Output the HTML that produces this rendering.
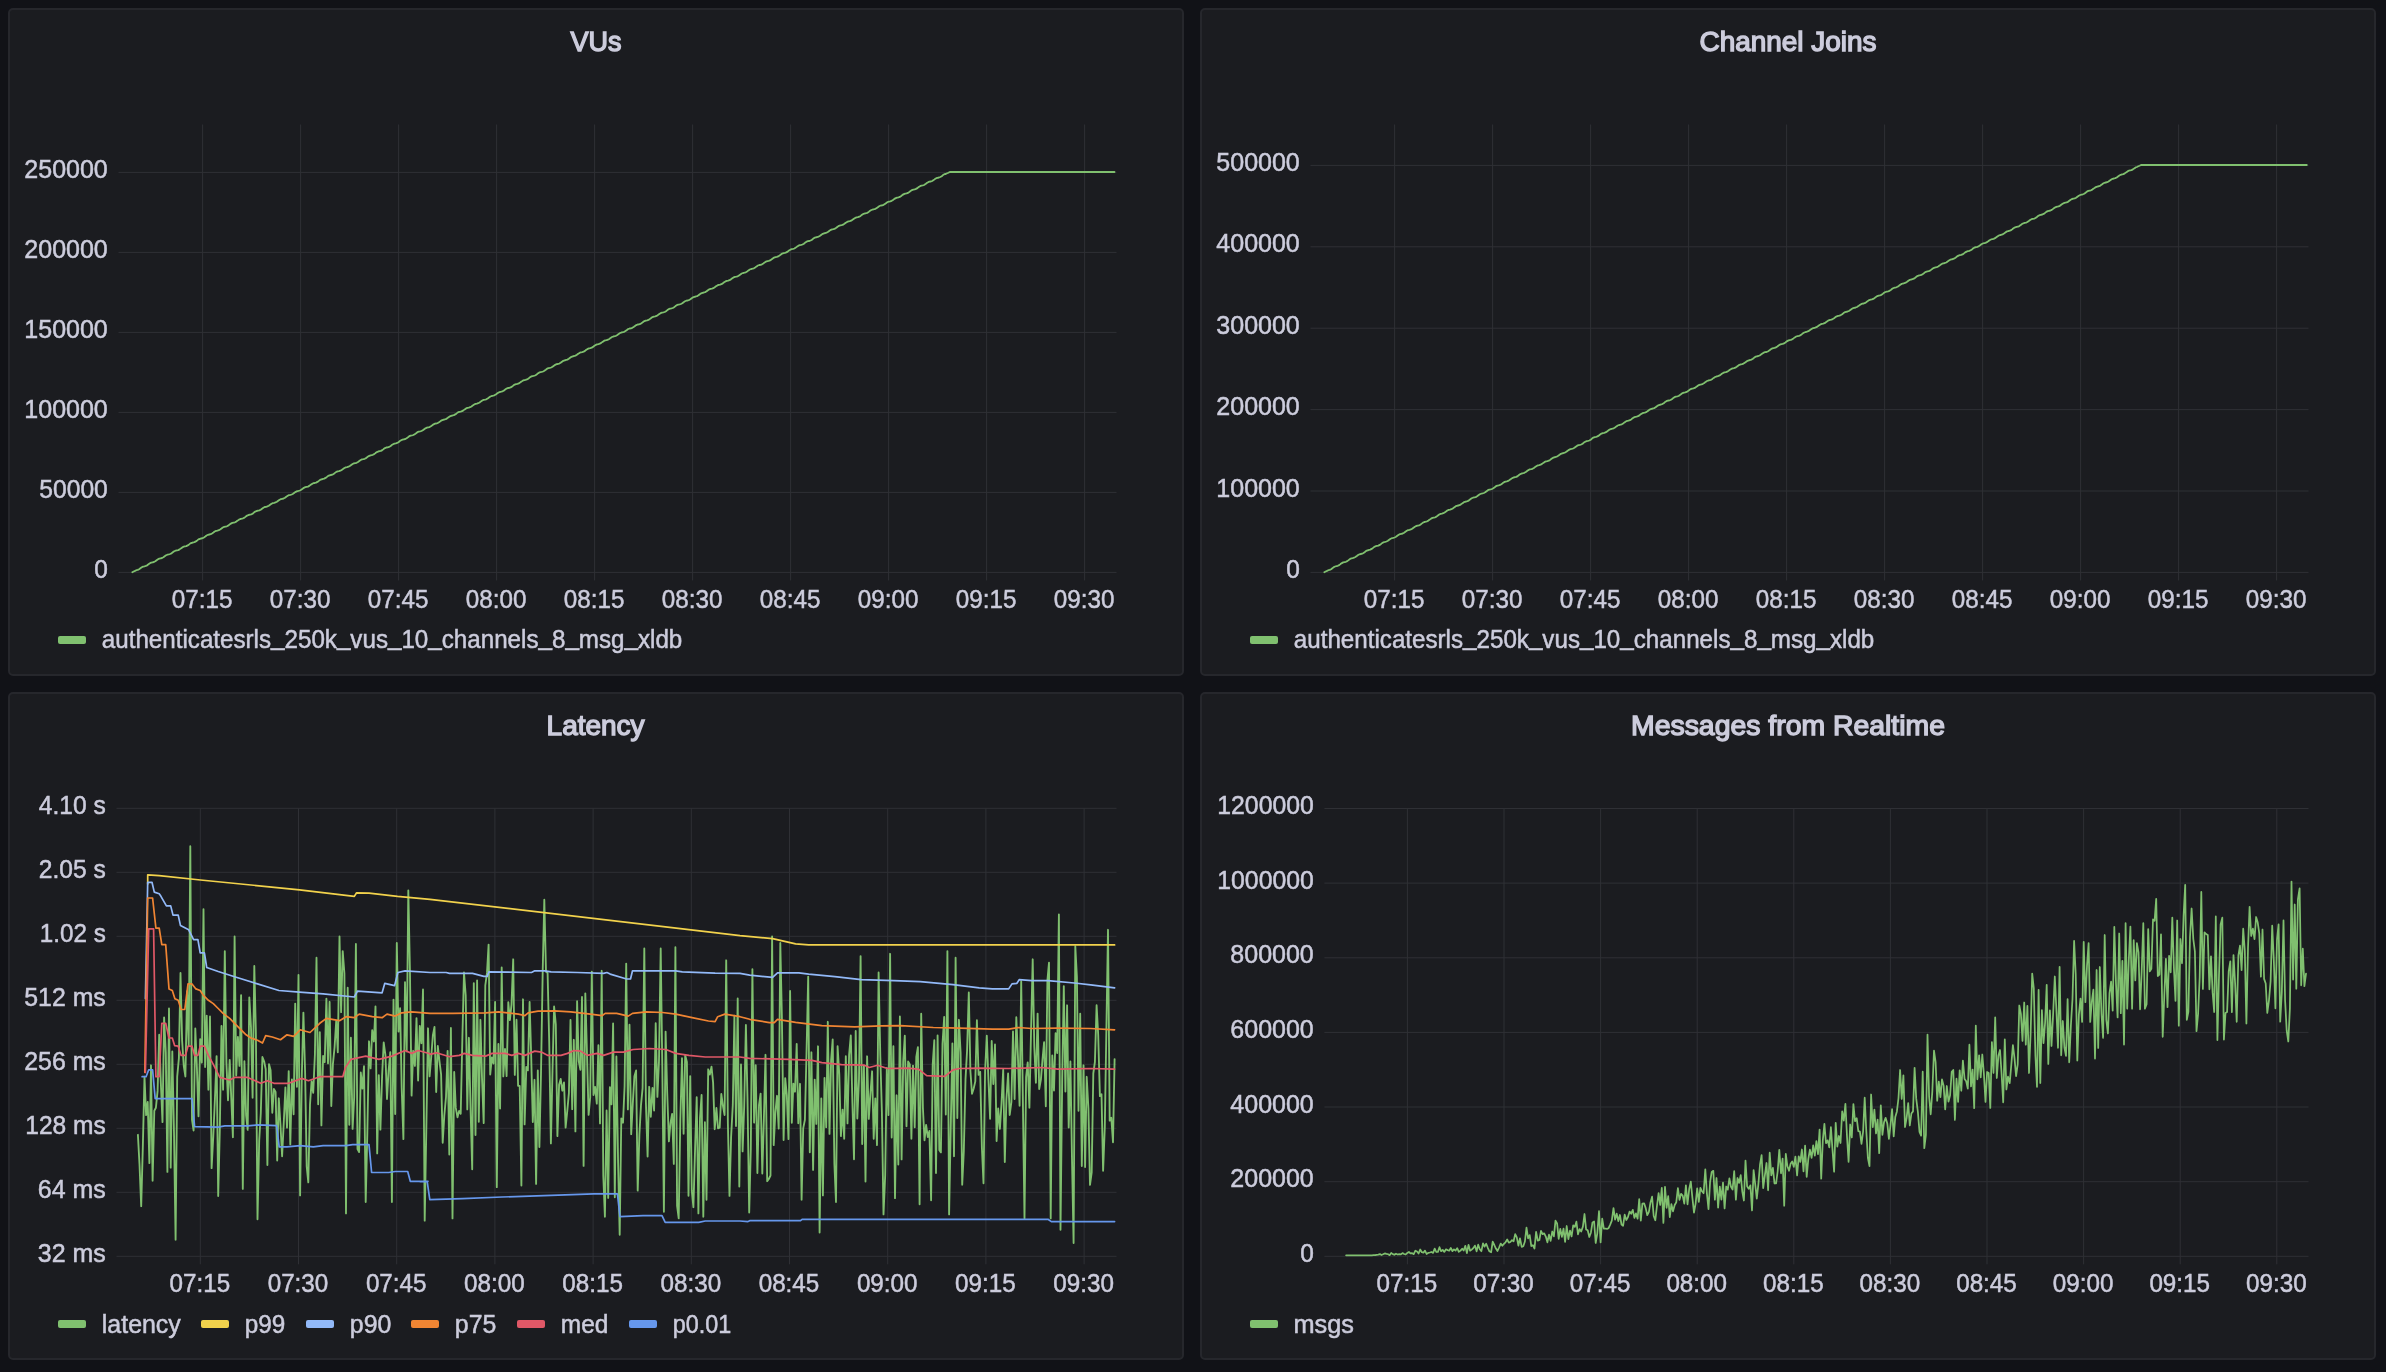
<!DOCTYPE html>
<html><head><meta charset="utf-8"><title>Dashboard</title>
<style>
html,body{margin:0;padding:0;background:#111217;width:2386px;height:1372px;overflow:hidden}
svg{display:block;will-change:transform}
.t{font-family:"Liberation Sans",sans-serif;font-size:25.2px;fill:#ccccdc;stroke:#ccccdc;stroke-width:0.5px;paint-order:stroke}
.h{font-family:"Liberation Sans",sans-serif;font-size:28px;fill:#ccccdc;stroke:#ccccdc;stroke-width:1.4px;paint-order:stroke}
</style></head><body>
<svg width="2386" height="1372" viewBox="0 0 2386 1372">
<rect width="2386" height="1372" fill="#111217"/>
<rect x="9" y="9" width="1174" height="666" rx="4" ry="4" fill="#1b1c20" stroke="#26272c" stroke-width="2"/>
<text class="h" x="596.0" y="51.2" text-anchor="middle" textLength="51.0" lengthAdjust="spacingAndGlyphs" font-size="28">VUs</text>
<rect x="118.5" y="571.9" width="998.0" height="1" fill="#2f3035"/>
<text class="t" x="107.8" y="578.0" text-anchor="end" textLength="13.6" lengthAdjust="spacingAndGlyphs">0</text>
<rect x="118.5" y="491.9" width="998.0" height="1" fill="#2f3035"/>
<text class="t" x="107.8" y="498.0" text-anchor="end" textLength="68.5" lengthAdjust="spacingAndGlyphs">50000</text>
<rect x="118.5" y="411.9" width="998.0" height="1" fill="#2f3035"/>
<text class="t" x="107.8" y="418.0" text-anchor="end" textLength="83.5" lengthAdjust="spacingAndGlyphs">100000</text>
<rect x="118.5" y="331.9" width="998.0" height="1" fill="#2f3035"/>
<text class="t" x="107.8" y="338.0" text-anchor="end" textLength="83.5" lengthAdjust="spacingAndGlyphs">150000</text>
<rect x="118.5" y="251.9" width="998.0" height="1" fill="#2f3035"/>
<text class="t" x="107.8" y="258.0" text-anchor="end" textLength="83.5" lengthAdjust="spacingAndGlyphs">200000</text>
<rect x="118.5" y="171.9" width="998.0" height="1" fill="#2f3035"/>
<text class="t" x="107.8" y="178.0" text-anchor="end" textLength="83.5" lengthAdjust="spacingAndGlyphs">250000</text>
<rect x="202.1" y="124.5" width="1" height="455.9" fill="#2f3035"/>
<text class="t" x="202.1" y="608.4" text-anchor="middle" textLength="60.6" lengthAdjust="spacingAndGlyphs">07:15</text>
<rect x="300.1" y="124.5" width="1" height="455.9" fill="#2f3035"/>
<text class="t" x="300.1" y="608.4" text-anchor="middle" textLength="60.6" lengthAdjust="spacingAndGlyphs">07:30</text>
<rect x="398.1" y="124.5" width="1" height="455.9" fill="#2f3035"/>
<text class="t" x="398.1" y="608.4" text-anchor="middle" textLength="60.6" lengthAdjust="spacingAndGlyphs">07:45</text>
<rect x="496.1" y="124.5" width="1" height="455.9" fill="#2f3035"/>
<text class="t" x="496.1" y="608.4" text-anchor="middle" textLength="60.6" lengthAdjust="spacingAndGlyphs">08:00</text>
<rect x="594.1" y="124.5" width="1" height="455.9" fill="#2f3035"/>
<text class="t" x="594.1" y="608.4" text-anchor="middle" textLength="60.6" lengthAdjust="spacingAndGlyphs">08:15</text>
<rect x="692.1" y="124.5" width="1" height="455.9" fill="#2f3035"/>
<text class="t" x="692.1" y="608.4" text-anchor="middle" textLength="60.6" lengthAdjust="spacingAndGlyphs">08:30</text>
<rect x="790.1" y="124.5" width="1" height="455.9" fill="#2f3035"/>
<text class="t" x="790.1" y="608.4" text-anchor="middle" textLength="60.6" lengthAdjust="spacingAndGlyphs">08:45</text>
<rect x="888.1" y="124.5" width="1" height="455.9" fill="#2f3035"/>
<text class="t" x="888.1" y="608.4" text-anchor="middle" textLength="60.6" lengthAdjust="spacingAndGlyphs">09:00</text>
<rect x="986.1" y="124.5" width="1" height="455.9" fill="#2f3035"/>
<text class="t" x="986.1" y="608.4" text-anchor="middle" textLength="60.6" lengthAdjust="spacingAndGlyphs">09:15</text>
<rect x="1084.1" y="124.5" width="1" height="455.9" fill="#2f3035"/>
<text class="t" x="1084.1" y="608.4" text-anchor="middle" textLength="60.6" lengthAdjust="spacingAndGlyphs">09:30</text>
<path d="M132.3 572.2 L133.7 571.5 L135.0 570.9 L136.4 570.2 L137.7 569.9 L139.1 569.2 L140.4 568.2 L141.8 567.2 L143.1 566.6 L144.5 566.3 L145.8 565.9 L147.2 565.3 L148.5 564.3 L149.9 563.3 L151.2 562.6 L152.6 562.3 L153.9 562.0 L155.3 561.3 L156.6 560.3 L158.0 559.3 L159.3 558.6 L160.7 558.3 L162.0 558.0 L163.4 557.3 L164.7 556.3 L166.1 555.3 L167.4 554.7 L168.8 554.4 L170.1 554.0 L171.5 553.4 L172.8 552.3 L174.2 551.3 L175.5 550.7 L176.9 550.4 L178.2 550.1 L179.6 549.4 L180.9 548.4 L182.3 547.4 L183.6 546.7 L185.0 546.4 L186.3 546.1 L187.7 545.4 L189.1 544.4 L190.4 543.4 L191.8 542.8 L193.1 542.5 L194.5 542.1 L195.8 541.4 L197.2 540.4 L198.5 539.4 L199.9 538.8 L201.2 538.5 L202.6 538.2 L203.9 537.5 L205.3 536.5 L206.6 535.5 L208.0 534.8 L209.3 534.5 L210.7 534.2 L212.0 533.5 L213.4 532.5 L214.7 531.5 L216.1 530.9 L217.4 530.6 L218.8 530.2 L220.1 529.5 L221.5 528.5 L222.8 527.5 L224.2 526.9 L225.5 526.6 L226.9 526.3 L228.2 525.6 L229.6 524.5 L230.9 523.6 L232.3 522.9 L233.6 522.6 L235.0 522.3 L236.3 521.6 L237.7 520.6 L239.0 519.6 L240.4 519.0 L241.8 518.7 L243.1 518.3 L244.5 517.6 L245.8 516.6 L247.2 515.6 L248.5 515.0 L249.9 514.7 L251.2 514.4 L252.6 513.7 L253.9 512.6 L255.3 511.6 L256.6 511.0 L258.0 510.7 L259.3 510.4 L260.7 509.7 L262.0 508.7 L263.4 507.7 L264.7 507.0 L266.1 506.8 L267.4 506.4 L268.8 505.7 L270.1 504.7 L271.5 503.7 L272.8 503.1 L274.2 502.8 L275.5 502.4 L276.9 501.7 L278.2 500.7 L279.6 499.7 L280.9 499.1 L282.3 498.8 L283.6 498.5 L285.0 497.8 L286.3 496.7 L287.7 495.8 L289.0 495.1 L290.4 494.9 L291.7 494.5 L293.1 493.8 L294.4 492.8 L295.8 491.8 L297.2 491.2 L298.5 490.9 L299.9 490.5 L301.2 489.8 L302.6 488.8 L303.9 487.8 L305.3 487.2 L306.6 486.9 L308.0 486.6 L309.3 485.9 L310.7 484.8 L312.0 483.9 L313.4 483.2 L314.7 483.0 L316.1 482.6 L317.4 481.9 L318.8 480.9 L320.1 479.9 L321.5 479.3 L322.8 479.0 L324.2 478.6 L325.5 477.9 L326.9 476.9 L328.2 475.9 L329.6 475.3 L330.9 475.0 L332.3 474.7 L333.6 474.0 L335.0 472.9 L336.3 471.9 L337.7 471.3 L339.0 471.1 L340.4 470.7 L341.7 470.0 L343.1 468.9 L344.4 468.0 L345.8 467.4 L347.1 467.1 L348.5 466.7 L349.8 466.0 L351.2 465.0 L352.6 464.0 L353.9 463.4 L355.3 463.1 L356.6 462.8 L358.0 462.0 L359.3 461.0 L360.7 460.0 L362.0 459.4 L363.4 459.2 L364.7 458.8 L366.1 458.1 L367.4 457.0 L368.8 456.1 L370.1 455.5 L371.5 455.2 L372.8 454.8 L374.2 454.1 L375.5 453.1 L376.9 452.1 L378.2 451.5 L379.6 451.2 L380.9 450.9 L382.3 450.1 L383.6 449.1 L385.0 448.1 L386.3 447.5 L387.7 447.3 L389.0 446.9 L390.4 446.2 L391.7 445.1 L393.1 444.2 L394.4 443.6 L395.8 443.3 L397.1 442.9 L398.5 442.2 L399.8 441.1 L401.2 440.2 L402.5 439.6 L403.9 439.3 L405.3 439.0 L406.6 438.2 L408.0 437.2 L409.3 436.2 L410.7 435.6 L412.0 435.4 L413.4 435.0 L414.7 434.2 L416.1 433.2 L417.4 432.2 L418.8 431.7 L420.1 431.4 L421.5 431.0 L422.8 430.3 L424.2 429.2 L425.5 428.3 L426.9 427.7 L428.2 427.4 L429.6 427.1 L430.9 426.3 L432.3 425.3 L433.6 424.3 L435.0 423.7 L436.3 423.5 L437.7 423.1 L439.0 422.3 L440.4 421.3 L441.7 420.3 L443.1 419.8 L444.4 419.5 L445.8 419.1 L447.1 418.4 L448.5 417.3 L449.8 416.4 L451.2 415.8 L452.5 415.5 L453.9 415.1 L455.2 414.4 L456.6 413.4 L457.9 412.4 L459.3 411.8 L460.7 411.6 L462.0 411.2 L463.4 410.4 L464.7 409.4 L466.1 408.4 L467.4 407.9 L468.8 407.6 L470.1 407.2 L471.5 406.5 L472.8 405.4 L474.2 404.5 L475.5 403.9 L476.9 403.6 L478.2 403.2 L479.6 402.5 L480.9 401.4 L482.3 400.5 L483.6 399.9 L485.0 399.7 L486.3 399.3 L487.7 398.5 L489.0 397.5 L490.4 396.5 L491.7 396.0 L493.1 395.7 L494.4 395.3 L495.8 394.5 L497.1 393.5 L498.5 392.6 L499.8 392.0 L501.2 391.7 L502.5 391.3 L503.9 390.6 L505.2 389.5 L506.6 388.6 L507.9 388.0 L509.3 387.8 L510.6 387.4 L512.0 386.6 L513.3 385.6 L514.7 384.6 L516.1 384.1 L517.4 383.8 L518.8 383.4 L520.1 382.6 L521.5 381.6 L522.8 380.6 L524.2 380.1 L525.5 379.8 L526.9 379.4 L528.2 378.7 L529.6 377.6 L530.9 376.7 L532.3 376.1 L533.6 375.9 L535.0 375.5 L536.3 374.7 L537.7 373.6 L539.0 372.7 L540.4 372.2 L541.7 371.9 L543.1 371.5 L544.4 370.7 L545.8 369.7 L547.1 368.7 L548.5 368.2 L549.8 367.9 L551.2 367.5 L552.5 366.7 L553.9 365.7 L555.2 364.8 L556.6 364.2 L557.9 364.0 L559.3 363.6 L560.6 362.8 L562.0 361.7 L563.3 360.8 L564.7 360.3 L566.0 360.0 L567.4 359.6 L568.8 358.8 L570.1 357.8 L571.5 356.8 L572.8 356.3 L574.2 356.0 L575.5 355.6 L576.9 354.8 L578.2 353.8 L579.6 352.9 L580.9 352.3 L582.3 352.1 L583.6 351.7 L585.0 350.9 L586.3 349.8 L587.7 348.9 L589.0 348.4 L590.4 348.1 L591.7 347.7 L593.1 346.9 L594.4 345.8 L595.8 344.9 L597.1 344.4 L598.5 344.1 L599.8 343.7 L601.2 342.9 L602.5 341.9 L603.9 340.9 L605.2 340.4 L606.6 340.2 L607.9 339.7 L609.3 339.0 L610.6 337.9 L612.0 337.0 L613.3 336.5 L614.7 336.2 L616.0 335.8 L617.4 335.0 L618.7 333.9 L620.1 333.0 L621.4 332.5 L622.8 332.2 L624.2 331.8 L625.5 331.0 L626.9 330.0 L628.2 329.0 L629.6 328.5 L630.9 328.3 L632.3 327.8 L633.6 327.0 L635.0 326.0 L636.3 325.1 L637.7 324.5 L639.0 324.3 L640.4 323.9 L641.7 323.1 L643.1 322.0 L644.4 321.1 L645.8 320.6 L647.1 320.3 L648.5 319.9 L649.8 319.1 L651.2 318.0 L652.5 317.1 L653.9 316.6 L655.2 316.3 L656.6 315.9 L657.9 315.1 L659.3 314.1 L660.6 313.2 L662.0 312.6 L663.3 312.4 L664.7 312.0 L666.0 311.2 L667.4 310.1 L668.7 309.2 L670.1 308.7 L671.4 308.4 L672.8 308.0 L674.1 307.2 L675.5 306.1 L676.8 305.2 L678.2 304.7 L679.6 304.4 L680.9 304.0 L682.3 303.2 L683.6 302.2 L685.0 301.3 L686.3 300.7 L687.7 300.5 L689.0 300.1 L690.4 299.2 L691.7 298.2 L693.1 297.3 L694.4 296.8 L695.8 296.5 L697.1 296.1 L698.5 295.3 L699.8 294.2 L701.2 293.3 L702.5 292.8 L703.9 292.5 L705.2 292.1 L706.6 291.3 L707.9 290.2 L709.3 289.3 L710.6 288.8 L712.0 288.6 L713.3 288.2 L714.7 287.3 L716.0 286.3 L717.4 285.4 L718.7 284.9 L720.1 284.6 L721.4 284.2 L722.8 283.4 L724.1 282.3 L725.5 281.4 L726.8 280.9 L728.2 280.6 L729.5 280.2 L730.9 279.4 L732.3 278.3 L733.6 277.4 L735.0 276.9 L736.3 276.7 L737.7 276.3 L739.0 275.4 L740.4 274.4 L741.7 273.5 L743.1 273.0 L744.4 272.7 L745.8 272.3 L747.1 271.5 L748.5 270.4 L749.8 269.5 L751.2 269.0 L752.5 268.7 L753.9 268.3 L755.2 267.5 L756.6 266.4 L757.9 265.5 L759.3 265.0 L760.6 264.8 L762.0 264.3 L763.3 263.5 L764.7 262.4 L766.0 261.6 L767.4 261.1 L768.7 260.8 L770.1 260.4 L771.4 259.5 L772.8 258.5 L774.1 257.6 L775.5 257.1 L776.8 256.8 L778.2 256.4 L779.5 255.6 L780.9 254.5 L782.2 253.6 L783.6 253.1 L784.9 252.9 L786.3 252.4 L787.7 251.6 L789.0 250.5 L790.4 249.7 L791.7 249.2 L793.1 248.9 L794.4 248.5 L795.8 247.6 L797.1 246.6 L798.5 245.7 L799.8 245.2 L801.2 244.9 L802.5 244.5 L803.9 243.7 L805.2 242.6 L806.6 241.7 L807.9 241.2 L809.3 241.0 L810.6 240.5 L812.0 239.7 L813.3 238.6 L814.7 237.7 L816.0 237.3 L817.4 237.0 L818.7 236.6 L820.1 235.7 L821.4 234.7 L822.8 233.8 L824.1 233.3 L825.5 233.0 L826.8 232.6 L828.2 231.7 L829.5 230.7 L830.9 229.8 L832.2 229.3 L833.6 229.1 L834.9 228.6 L836.3 227.8 L837.6 226.7 L839.0 225.8 L840.3 225.4 L841.7 225.1 L843.1 224.7 L844.4 223.8 L845.8 222.7 L847.1 221.9 L848.5 221.4 L849.8 221.1 L851.2 220.7 L852.5 219.8 L853.9 218.8 L855.2 217.9 L856.6 217.4 L857.9 217.2 L859.3 216.7 L860.6 215.9 L862.0 214.8 L863.3 213.9 L864.7 213.5 L866.0 213.2 L867.4 212.8 L868.7 211.9 L870.1 210.8 L871.4 210.0 L872.8 209.5 L874.1 209.2 L875.5 208.8 L876.8 207.9 L878.2 206.9 L879.5 206.0 L880.9 205.5 L882.2 205.3 L883.6 204.8 L884.9 203.9 L886.3 202.9 L887.6 202.0 L889.0 201.6 L890.3 201.3 L891.7 200.8 L893.0 200.0 L894.4 198.9 L895.8 198.1 L897.1 197.6 L898.5 197.3 L899.8 196.9 L901.2 196.0 L902.5 194.9 L903.9 194.1 L905.2 193.6 L906.6 193.4 L907.9 192.9 L909.3 192.0 L910.6 191.0 L912.0 190.1 L913.3 189.7 L914.7 189.4 L916.0 188.9 L917.4 188.1 L918.7 187.0 L920.1 186.2 L921.4 185.7 L922.8 185.4 L924.1 185.0 L925.5 184.1 L926.8 183.0 L928.2 182.2 L929.5 181.7 L930.9 181.5 L932.2 181.0 L933.6 180.1 L934.9 179.1 L936.3 178.2 L937.6 177.8 L939.0 177.5 L940.3 177.0 L941.7 176.2 L943.0 175.1 L944.4 174.2 L945.7 174.0 L947.1 173.3 L948.4 172.7 L949.8 172.0 L1114.5 172.0" fill="none" stroke="#80c06f" stroke-width="1.8" stroke-linejoin="round" stroke-linecap="round"/>
<rect x="58.0" y="636.0" width="28" height="8" rx="2" fill="#80c06f"/>
<text class="t" x="101.8" y="648.0" textLength="580.5" lengthAdjust="spacingAndGlyphs" font-size="23.4">authenticatesrls<tspan dy="-3.2">_</tspan><tspan dy="3.2">​</tspan>250k<tspan dy="-3.2">_</tspan><tspan dy="3.2">​</tspan>vus<tspan dy="-3.2">_</tspan><tspan dy="3.2">​</tspan>10<tspan dy="-3.2">_</tspan><tspan dy="3.2">​</tspan>channels<tspan dy="-3.2">_</tspan><tspan dy="3.2">​</tspan>8<tspan dy="-3.2">_</tspan><tspan dy="3.2">​</tspan>msg<tspan dy="-3.2">_</tspan><tspan dy="3.2">​</tspan>xldb</text>
<rect x="1201" y="9" width="1174" height="666" rx="4" ry="4" fill="#1b1c20" stroke="#26272c" stroke-width="2"/>
<text class="h" x="1788.0" y="51.2" text-anchor="middle" textLength="177.0" lengthAdjust="spacingAndGlyphs" font-size="28">Channel Joins</text>
<rect x="1310.5" y="571.9" width="998.0" height="1" fill="#2f3035"/>
<text class="t" x="1299.8" y="578.0" text-anchor="end" textLength="13.6" lengthAdjust="spacingAndGlyphs">0</text>
<rect x="1310.5" y="490.5" width="998.0" height="1" fill="#2f3035"/>
<text class="t" x="1299.8" y="496.6" text-anchor="end" textLength="83.5" lengthAdjust="spacingAndGlyphs">100000</text>
<rect x="1310.5" y="409.1" width="998.0" height="1" fill="#2f3035"/>
<text class="t" x="1299.8" y="415.2" text-anchor="end" textLength="83.5" lengthAdjust="spacingAndGlyphs">200000</text>
<rect x="1310.5" y="327.7" width="998.0" height="1" fill="#2f3035"/>
<text class="t" x="1299.8" y="333.8" text-anchor="end" textLength="83.5" lengthAdjust="spacingAndGlyphs">300000</text>
<rect x="1310.5" y="246.3" width="998.0" height="1" fill="#2f3035"/>
<text class="t" x="1299.8" y="252.4" text-anchor="end" textLength="83.5" lengthAdjust="spacingAndGlyphs">400000</text>
<rect x="1310.5" y="164.9" width="998.0" height="1" fill="#2f3035"/>
<text class="t" x="1299.8" y="171.0" text-anchor="end" textLength="83.5" lengthAdjust="spacingAndGlyphs">500000</text>
<rect x="1394.1" y="124.5" width="1" height="455.9" fill="#2f3035"/>
<text class="t" x="1394.1" y="608.4" text-anchor="middle" textLength="60.6" lengthAdjust="spacingAndGlyphs">07:15</text>
<rect x="1492.1" y="124.5" width="1" height="455.9" fill="#2f3035"/>
<text class="t" x="1492.1" y="608.4" text-anchor="middle" textLength="60.6" lengthAdjust="spacingAndGlyphs">07:30</text>
<rect x="1590.1" y="124.5" width="1" height="455.9" fill="#2f3035"/>
<text class="t" x="1590.1" y="608.4" text-anchor="middle" textLength="60.6" lengthAdjust="spacingAndGlyphs">07:45</text>
<rect x="1688.1" y="124.5" width="1" height="455.9" fill="#2f3035"/>
<text class="t" x="1688.1" y="608.4" text-anchor="middle" textLength="60.6" lengthAdjust="spacingAndGlyphs">08:00</text>
<rect x="1786.1" y="124.5" width="1" height="455.9" fill="#2f3035"/>
<text class="t" x="1786.1" y="608.4" text-anchor="middle" textLength="60.6" lengthAdjust="spacingAndGlyphs">08:15</text>
<rect x="1884.1" y="124.5" width="1" height="455.9" fill="#2f3035"/>
<text class="t" x="1884.1" y="608.4" text-anchor="middle" textLength="60.6" lengthAdjust="spacingAndGlyphs">08:30</text>
<rect x="1982.1" y="124.5" width="1" height="455.9" fill="#2f3035"/>
<text class="t" x="1982.1" y="608.4" text-anchor="middle" textLength="60.6" lengthAdjust="spacingAndGlyphs">08:45</text>
<rect x="2080.1" y="124.5" width="1" height="455.9" fill="#2f3035"/>
<text class="t" x="2080.1" y="608.4" text-anchor="middle" textLength="60.6" lengthAdjust="spacingAndGlyphs">09:00</text>
<rect x="2178.1" y="124.5" width="1" height="455.9" fill="#2f3035"/>
<text class="t" x="2178.1" y="608.4" text-anchor="middle" textLength="60.6" lengthAdjust="spacingAndGlyphs">09:15</text>
<rect x="2276.1" y="124.5" width="1" height="455.9" fill="#2f3035"/>
<text class="t" x="2276.1" y="608.4" text-anchor="middle" textLength="60.6" lengthAdjust="spacingAndGlyphs">09:30</text>
<path d="M1324.3 572.2 L1325.7 571.5 L1327.0 570.9 L1328.4 570.2 L1329.7 569.9 L1331.1 569.2 L1332.4 568.2 L1333.8 567.1 L1335.1 566.5 L1336.5 566.1 L1337.8 565.8 L1339.2 565.1 L1340.5 564.1 L1341.9 563.1 L1343.2 562.4 L1344.6 562.1 L1345.9 561.8 L1347.3 561.1 L1348.6 560.1 L1350.0 559.0 L1351.3 558.4 L1352.7 558.1 L1354.0 557.7 L1355.4 557.0 L1356.8 556.0 L1358.1 555.0 L1359.5 554.3 L1360.8 554.0 L1362.2 553.7 L1363.5 553.0 L1364.9 552.0 L1366.2 550.9 L1367.6 550.3 L1368.9 550.0 L1370.3 549.6 L1371.6 548.9 L1373.0 547.9 L1374.3 546.9 L1375.7 546.2 L1377.0 545.9 L1378.4 545.6 L1379.7 544.9 L1381.1 543.9 L1382.4 542.9 L1383.8 542.2 L1385.1 541.9 L1386.5 541.5 L1387.9 540.8 L1389.2 539.8 L1390.6 538.8 L1391.9 538.2 L1393.3 537.9 L1394.6 537.5 L1396.0 536.8 L1397.3 535.8 L1398.7 534.8 L1400.0 534.1 L1401.4 533.8 L1402.7 533.5 L1404.1 532.7 L1405.4 531.7 L1406.8 530.7 L1408.1 530.1 L1409.5 529.8 L1410.8 529.4 L1412.2 528.7 L1413.5 527.7 L1414.9 526.7 L1416.2 526.0 L1417.6 525.7 L1419.0 525.4 L1420.3 524.7 L1421.7 523.6 L1423.0 522.6 L1424.4 522.0 L1425.7 521.7 L1427.1 521.3 L1428.4 520.6 L1429.8 519.6 L1431.1 518.6 L1432.5 517.9 L1433.8 517.6 L1435.2 517.3 L1436.5 516.6 L1437.9 515.5 L1439.2 514.5 L1440.6 513.9 L1441.9 513.6 L1443.3 513.2 L1444.6 512.5 L1446.0 511.5 L1447.3 510.5 L1448.7 509.9 L1450.1 509.6 L1451.4 509.2 L1452.8 508.5 L1454.1 507.4 L1455.5 506.4 L1456.8 505.8 L1458.2 505.5 L1459.5 505.2 L1460.9 504.4 L1462.2 503.4 L1463.6 502.4 L1464.9 501.8 L1466.3 501.5 L1467.6 501.1 L1469.0 500.4 L1470.3 499.3 L1471.7 498.3 L1473.0 497.7 L1474.4 497.4 L1475.7 497.1 L1477.1 496.3 L1478.4 495.3 L1479.8 494.3 L1481.1 493.7 L1482.5 493.4 L1483.9 493.0 L1485.2 492.3 L1486.6 491.2 L1487.9 490.2 L1489.3 489.7 L1490.6 489.4 L1492.0 489.0 L1493.3 488.2 L1494.7 487.2 L1496.0 486.2 L1497.4 485.6 L1498.7 485.3 L1500.1 484.9 L1501.4 484.2 L1502.8 483.1 L1504.1 482.2 L1505.5 481.6 L1506.8 481.3 L1508.2 480.9 L1509.5 480.1 L1510.9 479.1 L1512.2 478.1 L1513.6 477.5 L1515.0 477.2 L1516.3 476.9 L1517.7 476.1 L1519.0 475.0 L1520.4 474.1 L1521.7 473.5 L1523.1 473.2 L1524.4 472.8 L1525.8 472.0 L1527.1 471.0 L1528.5 470.0 L1529.8 469.4 L1531.2 469.2 L1532.5 468.8 L1533.9 468.0 L1535.2 466.9 L1536.6 466.0 L1537.9 465.4 L1539.3 465.1 L1540.6 464.7 L1542.0 463.9 L1543.3 462.9 L1544.7 461.9 L1546.1 461.4 L1547.4 461.1 L1548.8 460.7 L1550.1 459.9 L1551.5 458.8 L1552.8 457.9 L1554.2 457.3 L1555.5 457.0 L1556.9 456.6 L1558.2 455.8 L1559.6 454.8 L1560.9 453.8 L1562.3 453.3 L1563.6 453.0 L1565.0 452.6 L1566.3 451.8 L1567.7 450.7 L1569.0 449.8 L1570.4 449.2 L1571.7 448.9 L1573.1 448.5 L1574.4 447.7 L1575.8 446.7 L1577.2 445.7 L1578.5 445.2 L1579.9 444.9 L1581.2 444.5 L1582.6 443.7 L1583.9 442.6 L1585.3 441.7 L1586.6 441.1 L1588.0 440.9 L1589.3 440.5 L1590.7 439.7 L1592.0 438.6 L1593.4 437.6 L1594.7 437.1 L1596.1 436.8 L1597.4 436.4 L1598.8 435.6 L1600.1 434.5 L1601.5 433.6 L1602.8 433.1 L1604.2 432.8 L1605.5 432.4 L1606.9 431.6 L1608.3 430.5 L1609.6 429.6 L1611.0 429.0 L1612.3 428.7 L1613.7 428.3 L1615.0 427.5 L1616.4 426.4 L1617.7 425.5 L1619.1 425.0 L1620.4 424.7 L1621.8 424.3 L1623.1 423.5 L1624.5 422.4 L1625.8 421.5 L1627.2 420.9 L1628.5 420.7 L1629.9 420.2 L1631.2 419.4 L1632.6 418.3 L1633.9 417.4 L1635.3 416.9 L1636.6 416.6 L1638.0 416.2 L1639.4 415.4 L1640.7 414.3 L1642.1 413.4 L1643.4 412.9 L1644.8 412.6 L1646.1 412.1 L1647.5 411.3 L1648.8 410.2 L1650.2 409.3 L1651.5 408.8 L1652.9 408.5 L1654.2 408.1 L1655.6 407.3 L1656.9 406.2 L1658.3 405.3 L1659.6 404.8 L1661.0 404.5 L1662.3 404.1 L1663.7 403.2 L1665.0 402.1 L1666.4 401.2 L1667.7 400.7 L1669.1 400.5 L1670.5 400.0 L1671.8 399.2 L1673.2 398.1 L1674.5 397.2 L1675.9 396.7 L1677.2 396.4 L1678.6 396.0 L1679.9 395.1 L1681.3 394.0 L1682.6 393.1 L1684.0 392.6 L1685.3 392.4 L1686.7 391.9 L1688.0 391.1 L1689.4 390.0 L1690.7 389.1 L1692.1 388.6 L1693.4 388.3 L1694.8 387.9 L1696.1 387.0 L1697.5 386.0 L1698.8 385.1 L1700.2 384.6 L1701.6 384.3 L1702.9 383.8 L1704.3 383.0 L1705.6 381.9 L1707.0 381.0 L1708.3 380.5 L1709.7 380.2 L1711.0 379.8 L1712.4 378.9 L1713.7 377.9 L1715.1 377.0 L1716.4 376.5 L1717.8 376.2 L1719.1 375.7 L1720.5 374.9 L1721.8 373.8 L1723.2 372.9 L1724.5 372.4 L1725.9 372.2 L1727.2 371.7 L1728.6 370.8 L1729.9 369.8 L1731.3 368.9 L1732.7 368.4 L1734.0 368.1 L1735.4 367.7 L1736.7 366.8 L1738.1 365.7 L1739.4 364.8 L1740.8 364.4 L1742.1 364.1 L1743.5 363.6 L1744.8 362.7 L1746.2 361.7 L1747.5 360.8 L1748.9 360.3 L1750.2 360.0 L1751.6 359.6 L1752.9 358.7 L1754.3 357.6 L1755.6 356.7 L1757.0 356.3 L1758.3 356.0 L1759.7 355.5 L1761.0 354.6 L1762.4 353.6 L1763.7 352.7 L1765.1 352.2 L1766.5 352.0 L1767.8 351.5 L1769.2 350.6 L1770.5 349.5 L1771.9 348.6 L1773.2 348.2 L1774.6 347.9 L1775.9 347.4 L1777.3 346.5 L1778.6 345.5 L1780.0 344.6 L1781.3 344.1 L1782.7 343.9 L1784.0 343.4 L1785.4 342.5 L1786.7 341.4 L1788.1 340.6 L1789.4 340.1 L1790.8 339.8 L1792.1 339.3 L1793.5 338.4 L1794.8 337.4 L1796.2 336.5 L1797.6 336.1 L1798.9 335.8 L1800.3 335.3 L1801.6 334.4 L1803.0 333.3 L1804.3 332.5 L1805.7 332.0 L1807.0 331.7 L1808.4 331.2 L1809.7 330.3 L1811.1 329.3 L1812.4 328.4 L1813.8 328.0 L1815.1 327.7 L1816.5 327.2 L1817.8 326.3 L1819.2 325.2 L1820.5 324.4 L1821.9 323.9 L1823.2 323.7 L1824.6 323.2 L1825.9 322.2 L1827.3 321.2 L1828.7 320.3 L1830.0 319.9 L1831.4 319.6 L1832.7 319.1 L1834.1 318.2 L1835.4 317.1 L1836.8 316.3 L1838.1 315.9 L1839.5 315.6 L1840.8 315.1 L1842.2 314.2 L1843.5 313.1 L1844.9 312.2 L1846.2 311.8 L1847.6 311.5 L1848.9 311.0 L1850.3 310.1 L1851.6 309.0 L1853.0 308.2 L1854.3 307.8 L1855.7 307.5 L1857.0 307.0 L1858.4 306.1 L1859.8 305.0 L1861.1 304.2 L1862.5 303.7 L1863.8 303.5 L1865.2 302.9 L1866.5 302.0 L1867.9 300.9 L1869.2 300.1 L1870.6 299.7 L1871.9 299.4 L1873.3 298.9 L1874.6 298.0 L1876.0 296.9 L1877.3 296.1 L1878.7 295.6 L1880.0 295.4 L1881.4 294.8 L1882.7 293.9 L1884.1 292.8 L1885.4 292.0 L1886.8 291.6 L1888.1 291.3 L1889.5 290.8 L1890.9 289.9 L1892.2 288.8 L1893.6 288.0 L1894.9 287.6 L1896.3 287.3 L1897.6 286.7 L1899.0 285.8 L1900.3 284.7 L1901.7 283.9 L1903.0 283.5 L1904.4 283.2 L1905.7 282.7 L1907.1 281.8 L1908.4 280.7 L1909.8 279.9 L1911.1 279.5 L1912.5 279.2 L1913.8 278.7 L1915.2 277.7 L1916.5 276.6 L1917.9 275.8 L1919.2 275.4 L1920.6 275.2 L1922.0 274.6 L1923.3 273.7 L1924.7 272.6 L1926.0 271.8 L1927.4 271.4 L1928.7 271.1 L1930.1 270.6 L1931.4 269.6 L1932.8 268.5 L1934.1 267.8 L1935.5 267.4 L1936.8 267.1 L1938.2 266.5 L1939.5 265.6 L1940.9 264.5 L1942.2 263.7 L1943.6 263.3 L1944.9 263.0 L1946.3 262.5 L1947.6 261.5 L1949.0 260.5 L1950.3 259.7 L1951.7 259.3 L1953.1 259.0 L1954.4 258.4 L1955.8 257.5 L1957.1 256.4 L1958.5 255.6 L1959.8 255.2 L1961.2 254.9 L1962.5 254.4 L1963.9 253.4 L1965.2 252.4 L1966.6 251.6 L1967.9 251.2 L1969.3 250.9 L1970.6 250.3 L1972.0 249.4 L1973.3 248.3 L1974.7 247.5 L1976.0 247.2 L1977.4 246.9 L1978.7 246.3 L1980.1 245.3 L1981.4 244.3 L1982.8 243.5 L1984.2 243.1 L1985.5 242.8 L1986.9 242.2 L1988.2 241.3 L1989.6 240.2 L1990.9 239.5 L1992.3 239.1 L1993.6 238.8 L1995.0 238.2 L1996.3 237.2 L1997.7 236.2 L1999.0 235.4 L2000.4 235.0 L2001.7 234.7 L2003.1 234.1 L2004.4 233.2 L2005.8 232.1 L2007.1 231.4 L2008.5 231.0 L2009.8 230.7 L2011.2 230.1 L2012.5 229.1 L2013.9 228.1 L2015.2 227.3 L2016.6 226.9 L2018.0 226.7 L2019.3 226.1 L2020.7 225.1 L2022.0 224.0 L2023.4 223.3 L2024.7 222.9 L2026.1 222.6 L2027.4 222.0 L2028.8 221.0 L2030.1 220.0 L2031.5 219.2 L2032.8 218.9 L2034.2 218.6 L2035.5 218.0 L2036.9 217.0 L2038.2 215.9 L2039.6 215.2 L2040.9 214.8 L2042.3 214.5 L2043.6 213.9 L2045.0 212.9 L2046.3 211.9 L2047.7 211.1 L2049.1 210.8 L2050.4 210.5 L2051.8 209.9 L2053.1 208.9 L2054.5 207.8 L2055.8 207.1 L2057.2 206.7 L2058.5 206.4 L2059.9 205.8 L2061.2 204.8 L2062.6 203.8 L2063.9 203.1 L2065.3 202.7 L2066.6 202.4 L2068.0 201.8 L2069.3 200.8 L2070.7 199.7 L2072.0 199.0 L2073.4 198.7 L2074.7 198.4 L2076.1 197.7 L2077.4 196.7 L2078.8 195.7 L2080.2 195.0 L2081.5 194.6 L2082.9 194.3 L2084.2 193.7 L2085.6 192.7 L2086.9 191.6 L2088.3 190.9 L2089.6 190.6 L2091.0 190.3 L2092.3 189.6 L2093.7 188.6 L2095.0 187.6 L2096.4 186.9 L2097.7 186.5 L2099.1 186.2 L2100.4 185.6 L2101.8 184.6 L2103.1 183.5 L2104.5 182.8 L2105.8 182.5 L2107.2 182.2 L2108.5 181.5 L2109.9 180.5 L2111.3 179.5 L2112.6 178.8 L2114.0 178.5 L2115.3 178.1 L2116.7 177.5 L2118.0 176.5 L2119.4 175.5 L2120.7 174.8 L2122.1 174.4 L2123.4 174.1 L2124.8 173.4 L2126.1 172.4 L2127.5 171.4 L2128.8 170.7 L2130.2 170.4 L2131.5 170.1 L2132.9 169.4 L2134.2 168.4 L2135.6 167.4 L2136.9 167.0 L2138.3 166.3 L2139.6 165.7 L2141.0 165.0 L2306.8 165.0" fill="none" stroke="#80c06f" stroke-width="1.8" stroke-linejoin="round" stroke-linecap="round"/>
<rect x="1250.0" y="636.0" width="28" height="8" rx="2" fill="#80c06f"/>
<text class="t" x="1293.8" y="648.0" textLength="580.5" lengthAdjust="spacingAndGlyphs" font-size="23.4">authenticatesrls<tspan dy="-3.2">_</tspan><tspan dy="3.2">​</tspan>250k<tspan dy="-3.2">_</tspan><tspan dy="3.2">​</tspan>vus<tspan dy="-3.2">_</tspan><tspan dy="3.2">​</tspan>10<tspan dy="-3.2">_</tspan><tspan dy="3.2">​</tspan>channels<tspan dy="-3.2">_</tspan><tspan dy="3.2">​</tspan>8<tspan dy="-3.2">_</tspan><tspan dy="3.2">​</tspan>msg<tspan dy="-3.2">_</tspan><tspan dy="3.2">​</tspan>xldb</text>
<rect x="9" y="693" width="1174" height="666" rx="4" ry="4" fill="#1b1c20" stroke="#26272c" stroke-width="2"/>
<text class="h" x="595.6" y="735.2" text-anchor="middle" textLength="98.0" lengthAdjust="spacingAndGlyphs" font-size="28">Latency</text>
<rect x="116.5" y="1255.8" width="1000.0" height="1" fill="#2f3035"/>
<text class="t" x="105.8" y="1261.9" text-anchor="end" textLength="68.0" lengthAdjust="spacingAndGlyphs">32 ms</text>
<rect x="116.5" y="1191.8" width="1000.0" height="1" fill="#2f3035"/>
<text class="t" x="105.8" y="1197.9" text-anchor="end" textLength="68.0" lengthAdjust="spacingAndGlyphs">64 ms</text>
<rect x="116.5" y="1127.8" width="1000.0" height="1" fill="#2f3035"/>
<text class="t" x="105.8" y="1133.9" text-anchor="end" textLength="80.5" lengthAdjust="spacingAndGlyphs">128 ms</text>
<rect x="116.5" y="1063.8" width="1000.0" height="1" fill="#2f3035"/>
<text class="t" x="105.8" y="1069.9" text-anchor="end" textLength="81.5" lengthAdjust="spacingAndGlyphs">256 ms</text>
<rect x="116.5" y="999.8" width="1000.0" height="1" fill="#2f3035"/>
<text class="t" x="105.8" y="1005.9" text-anchor="end" textLength="81.5" lengthAdjust="spacingAndGlyphs">512 ms</text>
<rect x="116.5" y="935.8" width="1000.0" height="1" fill="#2f3035"/>
<text class="t" x="105.8" y="941.9" text-anchor="end" textLength="66.0" lengthAdjust="spacingAndGlyphs">1.02 s</text>
<rect x="116.5" y="871.8" width="1000.0" height="1" fill="#2f3035"/>
<text class="t" x="105.8" y="877.9" text-anchor="end" textLength="67.0" lengthAdjust="spacingAndGlyphs">2.05 s</text>
<rect x="116.5" y="807.8" width="1000.0" height="1" fill="#2f3035"/>
<text class="t" x="105.8" y="813.9" text-anchor="end" textLength="67.0" lengthAdjust="spacingAndGlyphs">4.10 s</text>
<rect x="199.8" y="808.3" width="1" height="456.0" fill="#2f3035"/>
<text class="t" x="199.8" y="1292.3" text-anchor="middle" textLength="60.6" lengthAdjust="spacingAndGlyphs">07:15</text>
<rect x="298.0" y="808.3" width="1" height="456.0" fill="#2f3035"/>
<text class="t" x="298.0" y="1292.3" text-anchor="middle" textLength="60.6" lengthAdjust="spacingAndGlyphs">07:30</text>
<rect x="396.2" y="808.3" width="1" height="456.0" fill="#2f3035"/>
<text class="t" x="396.2" y="1292.3" text-anchor="middle" textLength="60.6" lengthAdjust="spacingAndGlyphs">07:45</text>
<rect x="494.4" y="808.3" width="1" height="456.0" fill="#2f3035"/>
<text class="t" x="494.4" y="1292.3" text-anchor="middle" textLength="60.6" lengthAdjust="spacingAndGlyphs">08:00</text>
<rect x="592.6" y="808.3" width="1" height="456.0" fill="#2f3035"/>
<text class="t" x="592.6" y="1292.3" text-anchor="middle" textLength="60.6" lengthAdjust="spacingAndGlyphs">08:15</text>
<rect x="690.8" y="808.3" width="1" height="456.0" fill="#2f3035"/>
<text class="t" x="690.8" y="1292.3" text-anchor="middle" textLength="60.6" lengthAdjust="spacingAndGlyphs">08:30</text>
<rect x="789.0" y="808.3" width="1" height="456.0" fill="#2f3035"/>
<text class="t" x="789.0" y="1292.3" text-anchor="middle" textLength="60.6" lengthAdjust="spacingAndGlyphs">08:45</text>
<rect x="887.2" y="808.3" width="1" height="456.0" fill="#2f3035"/>
<text class="t" x="887.2" y="1292.3" text-anchor="middle" textLength="60.6" lengthAdjust="spacingAndGlyphs">09:00</text>
<rect x="985.4" y="808.3" width="1" height="456.0" fill="#2f3035"/>
<text class="t" x="985.4" y="1292.3" text-anchor="middle" textLength="60.6" lengthAdjust="spacingAndGlyphs">09:15</text>
<rect x="1083.6" y="808.3" width="1" height="456.0" fill="#2f3035"/>
<text class="t" x="1083.6" y="1292.3" text-anchor="middle" textLength="60.6" lengthAdjust="spacingAndGlyphs">09:30</text>
<path d="M137.9 1134.8 L139.5 1164.3 L141.2 1206.2 L142.8 1147.9 L144.5 1076.7 L146.1 1115.1 L147.7 1102.0 L149.4 1163.1 L151.0 1065.3 L152.6 1180.7 L154.3 1110.7 L155.9 1107.7 L157.6 1090.9 L159.2 1034.7 L160.8 1082.2 L162.5 1122.1 L164.1 1017.5 L165.8 1052.5 L167.4 1171.9 L169.0 1008.4 L170.7 1167.7 L172.3 1051.4 L174.0 1132.6 L175.6 1239.7 L177.2 1076.7 L178.9 1058.1 L180.5 972.9 L182.1 1040.5 L183.8 1066.2 L185.4 1076.6 L187.1 991.2 L188.7 1045.7 L190.3 846.2 L192.0 1119.7 L193.6 1130.5 L195.3 1028.5 L196.9 1067.8 L198.5 1116.3 L200.2 1039.1 L201.8 1062.6 L203.5 909.2 L205.1 1067.0 L206.7 1015.6 L208.4 1089.7 L210.0 1016.5 L211.6 1168.2 L213.3 1136.0 L214.9 1099.5 L216.6 1056.1 L218.2 1196.0 L219.8 1130.3 L221.5 1026.0 L223.1 1089.7 L224.8 951.1 L226.4 1062.6 L228.0 1100.3 L229.7 1059.9 L231.3 1099.0 L232.9 1137.2 L234.6 936.4 L236.2 1075.5 L237.9 1036.9 L239.5 1065.9 L241.1 995.1 L242.8 1188.9 L244.4 1061.1 L246.1 1115.3 L247.7 1129.9 L249.3 997.4 L251.0 1027.3 L252.6 1097.7 L254.3 965.9 L255.9 1033.3 L257.5 1219.3 L259.2 1140.7 L260.8 1113.0 L262.4 1057.0 L264.1 1061.3 L265.7 1069.2 L267.4 1165.0 L269.0 1064.1 L270.6 1070.2 L272.3 1112.8 L273.9 1088.9 L275.6 1091.9 L277.2 1160.5 L278.8 1098.3 L280.5 1125.5 L282.1 1156.3 L283.7 1124.0 L285.4 1087.4 L287.0 1127.6 L288.7 1071.1 L290.3 1144.4 L291.9 1079.4 L293.6 1114.3 L295.2 1003.6 L296.9 1086.8 L298.5 974.9 L300.1 1195.4 L301.8 1076.8 L303.4 1012.6 L305.1 1072.2 L306.7 1166.5 L308.3 1182.3 L310.0 1104.5 L311.6 1081.1 L313.2 1092.9 L314.9 1054.7 L316.5 957.7 L318.2 1104.3 L319.8 1032.1 L321.4 1125.4 L323.1 1055.9 L324.7 1062.2 L326.4 998.6 L328.0 1063.4 L329.6 1001.8 L331.3 1106.0 L332.9 1064.1 L334.6 1047.1 L336.2 1021.0 L337.8 1052.3 L339.5 936.4 L341.1 1012.2 L342.7 951.1 L344.4 973.2 L346.0 1213.4 L347.7 987.7 L349.3 1124.8 L350.9 1037.7 L352.6 1128.9 L354.2 1097.2 L355.9 943.9 L357.5 1149.0 L359.1 1152.1 L360.8 1072.5 L362.4 1088.6 L364.0 1066.2 L365.7 1202.0 L367.3 1134.5 L369.0 1041.3 L370.6 1068.4 L372.2 1030.2 L373.9 1041.5 L375.5 1006.4 L377.2 1153.4 L378.8 1075.1 L380.4 1129.6 L382.1 1075.9 L383.7 1042.5 L385.4 1054.8 L387.0 1099.0 L388.6 1070.5 L390.3 1052.2 L391.9 1202.0 L393.5 999.6 L395.2 1114.0 L396.8 943.0 L398.5 1031.6 L400.1 1008.2 L401.7 1087.9 L403.4 1139.1 L405.0 982.1 L406.7 1051.4 L408.3 890.5 L409.9 968.8 L411.6 1095.6 L413.2 1050.8 L414.9 1066.0 L416.5 1018.1 L418.1 1080.5 L419.8 1025.9 L421.4 1043.2 L423.0 989.5 L424.7 1220.7 L426.3 1130.6 L428.0 1028.3 L429.6 1076.4 L431.2 1057.2 L432.9 1035.1 L434.5 1027.0 L436.2 1092.0 L437.8 1046.0 L439.4 1060.6 L441.1 1074.4 L442.7 1142.8 L444.3 1115.7 L446.0 1097.0 L447.6 1050.9 L449.3 1154.6 L450.9 1028.0 L452.5 1218.4 L454.2 1072.0 L455.8 1107.9 L457.5 1117.3 L459.1 1111.0 L460.7 1113.8 L462.4 1037.0 L464.0 972.5 L465.7 995.3 L467.3 1109.4 L468.9 1037.8 L470.6 1109.9 L472.2 1169.3 L473.8 983.1 L475.5 1135.0 L477.1 980.5 L478.8 1121.8 L480.4 1019.8 L482.0 1077.6 L483.7 1123.1 L485.3 985.3 L487.0 972.9 L488.6 944.6 L490.2 1074.6 L491.9 1057.5 L493.5 1063.6 L495.1 1002.0 L496.8 1187.2 L498.4 1044.0 L500.1 1108.5 L501.7 967.5 L503.3 1076.4 L505.0 1049.0 L506.6 1076.1 L508.3 1002.1 L509.9 1020.1 L511.5 1004.6 L513.2 959.3 L514.8 1074.9 L516.5 1019.7 L518.1 1085.8 L519.7 1085.9 L521.4 1185.6 L523.0 999.3 L524.6 1124.4 L526.3 1066.9 L527.9 1070.4 L529.6 1001.9 L531.2 1056.2 L532.8 1122.0 L534.5 1079.8 L536.1 1183.9 L537.8 1070.5 L539.4 1147.1 L541.0 1073.3 L542.7 971.6 L544.3 899.7 L546.0 971.8 L547.6 973.0 L549.2 1041.5 L550.9 1143.4 L552.5 1070.7 L554.1 1006.5 L555.8 1024.3 L557.4 1136.1 L559.1 1084.8 L560.7 1079.0 L562.3 1090.7 L564.0 1082.4 L565.6 1127.6 L567.3 1110.7 L568.9 1093.2 L570.5 1020.0 L572.2 1109.2 L573.8 1039.8 L575.4 1131.4 L577.1 1001.2 L578.7 1061.1 L580.4 1069.8 L582.0 997.0 L583.6 1165.9 L585.3 993.4 L586.9 1050.8 L588.6 1114.9 L590.2 1097.5 L591.8 971.6 L593.5 1095.0 L595.1 1086.9 L596.8 1103.7 L598.4 1045.2 L600.0 1123.4 L601.7 970.8 L603.3 1175.6 L604.9 1216.7 L606.6 1110.4 L608.2 1197.9 L609.9 1087.1 L611.5 1104.3 L613.1 1023.5 L614.8 1197.3 L616.4 1056.4 L618.1 1162.8 L619.7 1234.8 L621.3 1118.4 L623.0 1122.7 L624.6 1086.0 L626.2 963.6 L627.9 1109.4 L629.5 1024.7 L631.2 1134.2 L632.8 1103.6 L634.4 1076.2 L636.1 1070.5 L637.7 1190.6 L639.4 1134.6 L641.0 1105.1 L642.6 1088.2 L644.3 948.5 L645.9 1102.8 L647.6 1156.5 L649.2 1086.8 L650.8 1116.8 L652.5 1087.9 L654.1 1110.5 L655.7 1023.2 L657.4 1096.9 L659.0 1060.7 L660.7 948.5 L662.3 1066.2 L663.9 1211.8 L665.6 1031.6 L667.2 1092.4 L668.9 1141.4 L670.5 1123.2 L672.1 1113.9 L673.8 1163.9 L675.4 947.2 L677.1 1205.8 L678.7 1218.4 L680.3 1120.6 L682.0 1058.1 L683.6 1133.7 L685.2 1055.1 L686.9 1062.0 L688.5 1195.8 L690.2 1076.1 L691.8 1190.7 L693.4 1207.2 L695.1 1148.1 L696.7 1097.2 L698.4 1213.4 L700.0 1118.0 L701.6 1094.9 L703.3 1216.7 L704.9 1122.2 L706.5 1199.8 L708.2 1069.3 L709.8 1074.6 L711.5 1066.6 L713.1 1082.6 L714.7 1129.2 L716.4 1108.0 L718.0 1128.3 L719.7 1127.7 L721.3 1094.0 L722.9 1105.6 L724.6 1115.0 L726.2 960.3 L727.9 1124.1 L729.5 1195.9 L731.1 1137.0 L732.8 1104.9 L734.4 1015.7 L736.0 1126.1 L737.7 998.4 L739.3 1186.5 L741.0 1064.4 L742.6 1151.4 L744.2 1106.3 L745.9 1025.0 L747.5 1098.4 L749.2 1212.5 L750.8 1148.8 L752.4 969.2 L754.1 1122.6 L755.7 1065.1 L757.4 1173.1 L759.0 1105.1 L760.6 1093.6 L762.3 1173.5 L763.9 1118.4 L765.5 1054.8 L767.2 1181.2 L768.8 1179.0 L770.5 1175.5 L772.1 936.4 L773.7 1145.1 L775.4 1112.2 L777.0 1095.8 L778.7 1128.6 L780.3 943.0 L781.9 1017.8 L783.6 1140.1 L785.2 1078.1 L786.8 1094.9 L788.5 1139.1 L790.1 991.0 L791.8 1122.8 L793.4 1083.6 L795.0 1091.7 L796.7 1043.9 L798.3 1123.3 L800.0 1083.8 L801.6 1199.7 L803.2 1128.4 L804.9 1119.8 L806.5 1053.8 L808.2 976.6 L809.8 1152.3 L811.4 1052.3 L813.1 1169.9 L814.7 1079.6 L816.3 1123.9 L818.0 1046.3 L819.6 1232.5 L821.3 1098.4 L822.9 1195.4 L824.5 1077.9 L826.2 1127.2 L827.8 1021.8 L829.5 1133.9 L831.1 1060.3 L832.7 1039.4 L834.4 1164.0 L836.0 1202.0 L837.6 1046.2 L839.3 1074.8 L840.9 1136.1 L842.6 1109.6 L844.2 1138.7 L845.8 1056.2 L847.5 1123.4 L849.1 1054.9 L850.8 1035.5 L852.4 1102.8 L854.0 1159.3 L855.7 1031.0 L857.3 1118.5 L859.0 1079.1 L860.6 956.1 L862.2 1144.0 L863.9 1065.7 L865.5 1181.5 L867.1 1056.3 L868.8 1118.9 L870.4 1094.0 L872.1 1071.3 L873.7 1138.8 L875.3 1098.4 L877.0 1145.1 L878.6 972.5 L880.3 1056.2 L881.9 1112.3 L883.5 1214.4 L885.2 1175.2 L886.8 1067.9 L888.5 1115.1 L890.1 953.8 L891.7 1137.5 L893.4 1046.2 L895.0 1198.2 L896.6 1095.3 L898.3 1164.5 L899.9 1016.4 L901.6 1159.4 L903.2 1061.5 L904.8 1035.7 L906.5 1126.2 L908.1 1061.4 L909.8 1064.5 L911.4 1138.7 L913.0 1065.6 L914.7 1127.3 L916.3 1057.0 L917.9 1047.1 L919.6 1204.3 L921.2 1013.7 L922.9 1107.8 L924.5 1140.3 L926.1 1124.9 L927.8 1137.1 L929.4 1131.0 L931.1 1200.3 L932.7 1064.6 L934.3 1040.2 L936.0 1173.0 L937.6 1035.4 L939.3 1149.9 L940.9 1152.4 L942.5 1043.8 L944.2 1016.9 L945.8 1114.6 L947.4 951.1 L949.1 1214.4 L950.7 1129.7 L952.4 1043.4 L954.0 1156.2 L955.6 957.7 L957.3 1118.0 L958.9 1019.8 L960.6 1052.7 L962.2 1184.7 L963.8 1151.5 L965.5 1079.4 L967.1 1050.1 L968.8 992.5 L970.4 1071.0 L972.0 1093.8 L973.7 1088.5 L975.3 1081.4 L976.9 1020.2 L978.6 1074.9 L980.2 1071.9 L981.9 1147.7 L983.5 1183.3 L985.1 1070.7 L986.8 1035.7 L988.4 1078.9 L990.1 1118.8 L991.7 1041.0 L993.3 1084.0 L995.0 1044.5 L996.6 1141.0 L998.2 1108.5 L999.9 1128.9 L1001.5 1103.6 L1003.2 1069.6 L1004.8 1162.0 L1006.4 1099.3 L1008.1 1073.5 L1009.7 1115.0 L1011.4 1102.0 L1013.0 1031.4 L1014.6 1099.1 L1016.3 1017.2 L1017.9 1055.8 L1019.6 1105.7 L1021.2 981.2 L1022.8 1095.9 L1024.5 1218.4 L1026.1 1077.2 L1027.7 1062.4 L1029.4 1107.7 L1031.0 1033.4 L1032.7 959.3 L1034.3 1047.2 L1035.9 1082.7 L1037.6 1013.6 L1039.2 1089.0 L1040.9 1079.6 L1042.5 1059.6 L1044.1 1042.1 L1045.8 1106.3 L1047.4 980.7 L1049.0 962.6 L1050.7 1218.4 L1052.3 1055.5 L1054.0 1090.5 L1055.6 1033.2 L1057.2 1053.0 L1058.9 914.4 L1060.5 1229.8 L1062.2 1079.6 L1063.8 986.1 L1065.4 1091.5 L1067.1 1005.3 L1068.7 1127.6 L1070.4 1061.4 L1072.0 1158.9 L1073.6 1243.0 L1075.3 946.2 L1076.9 977.1 L1078.5 1110.8 L1080.2 1013.6 L1081.8 1166.1 L1083.5 1065.3 L1085.1 1167.1 L1086.7 1076.8 L1088.4 1108.1 L1090.0 1184.9 L1091.7 1172.3 L1093.3 1073.5 L1094.9 1062.0 L1096.6 1005.2 L1098.2 1034.8 L1099.9 1096.1 L1101.5 1094.3 L1103.1 1170.8 L1104.8 1127.0 L1106.4 1028.6 L1108.0 929.8 L1109.7 1120.7 L1111.3 1117.8 L1113.0 1142.3 L1114.6 1059.1" fill="none" stroke="#80c06f" stroke-width="1.85" stroke-linejoin="round" stroke-linecap="round"/>
<path d="M147.7 883.9 L147.7 874.8 L159.2 875.7 L200.5 880.0 L299.5 889.8 L354.3 896.4 L356.6 892.8 L369.0 893.1 L397.5 896.4 L430.0 899.3 L740.0 935.7 L772.6 938.7 L795.6 943.9 L808.7 944.9 L1114.6 944.9" fill="none" stroke="#f2d24c" stroke-width="1.7" stroke-linejoin="round" stroke-linecap="round"/>
<path d="M145.4 998.7 L147.7 882.3 L152.0 882.3 L154.3 892.1 L159.2 893.8 L160.8 896.1 L166.4 905.9 L170.7 905.9 L173.0 915.1 L178.2 915.1 L180.5 925.6 L188.7 929.8 L193.6 939.7 L197.9 939.7 L200.2 952.8 L204.4 952.8 L206.7 967.5 L218.2 971.5 L234.6 976.7 L257.5 983.9 L278.9 990.5 L299.5 992.1 L323.1 993.8 L354.3 997.0 L357.5 991.1 L382.1 992.8 L384.8 983.3 L394.6 985.6 L397.9 972.5 L405.1 970.8 L430.0 972.5 L446.2 972.5 L449.5 973.4 L472.5 973.4 L483.9 976.4 L487.2 976.4 L488.9 971.8 L531.5 972.5 L534.8 970.8 L544.6 970.8 L551.1 971.8 L577.4 972.5 L603.6 973.4 L606.9 972.5 L610.2 974.1 L626.6 979.0 L630.5 979.0 L632.5 970.8 L675.7 970.8 L682.3 971.8 L715.1 973.1 L740.0 973.4 L749.7 975.1 L772.6 977.4 L777.5 972.8 L798.9 972.8 L808.7 974.1 L834.9 976.7 L861.1 979.7 L893.9 980.7 L920.2 981.6 L953.0 984.6 L979.2 987.9 L992.3 988.9 L1008.7 988.9 L1012.0 983.9 L1016.9 983.3 L1019.2 979.7 L1031.6 980.7 L1048.0 980.7 L1074.3 983.0 L1090.7 984.9 L1114.6 987.9" fill="none" stroke="#92b9f8" stroke-width="1.7" stroke-linejoin="round" stroke-linecap="round"/>
<path d="M144.8 1072.5 L147.7 898.0 L152.6 898.0 L155.9 928.2 L159.2 928.2 L161.8 944.6 L165.7 944.6 L169.0 988.9 L172.3 990.5 L174.9 998.7 L178.2 1000.3 L181.1 1009.5 L184.8 1009.5 L188.0 983.9 L192.0 983.9 L195.9 988.9 L200.2 990.5 L203.4 995.4 L208.4 1000.3 L213.3 1003.6 L218.2 1008.5 L223.1 1013.4 L229.7 1018.4 L234.6 1023.3 L241.1 1029.8 L246.1 1034.8 L251.0 1038.0 L257.5 1040.3 L262.5 1043.0 L265.7 1035.7 L272.3 1037.0 L280.5 1039.7 L287.0 1034.8 L293.6 1036.4 L300.2 1029.8 L310.0 1032.5 L319.8 1023.3 L326.4 1018.4 L339.5 1020.7 L346.1 1016.7 L354.3 1017.7 L359.2 1014.1 L372.3 1016.7 L382.1 1017.7 L387.0 1014.1 L395.2 1016.1 L401.8 1012.8 L411.6 1011.8 L430.0 1013.4 L452.8 1013.4 L485.6 1012.8 L498.7 1011.8 L518.4 1014.1 L524.9 1015.7 L528.2 1012.8 L538.0 1011.1 L554.4 1010.8 L570.8 1011.8 L590.5 1014.1 L602.0 1015.7 L605.2 1013.4 L616.7 1013.4 L628.2 1016.1 L632.5 1013.4 L646.2 1011.8 L662.6 1012.5 L675.7 1014.1 L692.1 1017.7 L708.5 1021.0 L715.1 1021.6 L717.7 1016.7 L724.9 1014.1 L740.0 1016.7 L749.7 1019.3 L769.3 1022.6 L774.3 1022.6 L777.5 1019.3 L795.6 1022.3 L821.8 1025.6 L854.6 1026.9 L880.8 1025.9 L900.5 1025.6 L933.3 1027.5 L959.5 1028.2 L992.3 1029.2 L1008.7 1029.2 L1018.5 1027.5 L1031.6 1028.5 L1057.9 1028.2 L1090.7 1028.5 L1114.6 1029.8" fill="none" stroke="#f08533" stroke-width="1.7" stroke-linejoin="round" stroke-linecap="round"/>
<path d="M145.4 1072.5 L148.7 928.9 L153.6 928.9 L155.9 1076.7 L159.2 1076.7 L161.8 1023.3 L165.7 1023.3 L169.0 1038.0 L172.3 1038.0 L174.6 1045.6 L178.2 1046.2 L181.1 1055.4 L185.4 1055.4 L188.0 1046.2 L192.0 1046.2 L194.6 1055.4 L197.9 1055.4 L200.2 1046.2 L204.4 1046.2 L208.4 1055.4 L213.3 1064.3 L219.8 1077.4 L229.7 1080.0 L234.6 1077.4 L247.7 1077.4 L260.8 1083.3 L267.4 1080.7 L273.9 1083.3 L288.7 1083.3 L301.8 1078.4 L308.4 1080.7 L319.8 1076.7 L342.8 1076.7 L345.4 1067.5 L351.0 1059.3 L365.7 1056.1 L378.9 1059.3 L392.0 1056.1 L405.1 1050.5 L411.6 1053.4 L418.2 1050.5 L430.0 1053.8 L429.8 1054.4 L436.4 1052.8 L449.5 1056.7 L459.3 1055.4 L464.3 1053.4 L472.5 1055.4 L485.6 1056.1 L492.1 1053.4 L505.2 1053.4 L511.8 1055.4 L518.4 1053.4 L524.9 1055.4 L534.8 1051.1 L541.3 1052.1 L547.9 1055.4 L561.0 1055.4 L567.5 1053.4 L574.1 1050.5 L580.7 1051.1 L587.2 1055.4 L597.0 1053.4 L603.6 1055.4 L613.4 1052.1 L623.3 1052.1 L633.1 1049.5 L649.5 1048.5 L665.9 1049.5 L675.7 1053.4 L688.9 1055.4 L705.2 1057.0 L740.0 1057.0 L749.7 1058.4 L789.0 1059.3 L812.0 1060.3 L821.8 1062.6 L841.5 1064.6 L864.4 1065.2 L869.3 1067.5 L877.5 1065.2 L887.4 1068.5 L907.0 1068.2 L918.5 1069.2 L926.7 1075.7 L944.8 1076.4 L953.0 1069.8 L959.5 1068.5 L979.2 1068.2 L1008.7 1068.5 L1041.5 1067.5 L1057.9 1069.2 L1090.7 1068.5 L1114.6 1069.2" fill="none" stroke="#e05867" stroke-width="1.7" stroke-linejoin="round" stroke-linecap="round"/>
<path d="M142.1 1076.7 L146.1 1076.7 L148.7 1069.8 L152.6 1069.8 L155.2 1098.7 L192.0 1098.7 L194.6 1126.6 L218.2 1127.2 L224.8 1125.9 L247.7 1125.9 L257.5 1124.9 L276.6 1125.6 L279.2 1146.9 L287.0 1146.9 L300.2 1145.6 L313.3 1146.9 L323.1 1145.6 L346.1 1145.6 L352.6 1144.6 L369.0 1144.6 L371.6 1172.5 L388.7 1172.5 L395.2 1171.5 L407.7 1171.5 L410.3 1181.3 L428.0 1181.3 L420.0 1181.6 L427.2 1181.6 L429.8 1199.7 L462.6 1198.7 L502.0 1197.0 L551.1 1195.4 L593.8 1193.8 L617.4 1193.8 L620.0 1216.7 L643.0 1215.7 L662.0 1215.7 L665.2 1222.3 L698.7 1222.3 L705.2 1221.0 L740.0 1221.0 L748.0 1221.6 L749.7 1220.7 L800.5 1220.7 L802.1 1219.3 L1048.0 1219.3 L1051.3 1221.6 L1114.6 1221.6" fill="none" stroke="#6697ec" stroke-width="1.7" stroke-linejoin="round" stroke-linecap="round"/>
<rect x="58.0" y="1320.0" width="28" height="8" rx="2" fill="#80c06f"/>
<text class="t" x="101.8" y="1332.6" textLength="79.0" lengthAdjust="spacingAndGlyphs" font-size="23.4">latency</text>
<rect x="201.0" y="1320.0" width="28" height="8" rx="2" fill="#f2d24c"/>
<text class="t" x="244.8" y="1332.6" textLength="40.5" lengthAdjust="spacingAndGlyphs" font-size="23.4">p99</text>
<rect x="306.0" y="1320.0" width="28" height="8" rx="2" fill="#92b9f8"/>
<text class="t" x="349.8" y="1332.6" textLength="41.5" lengthAdjust="spacingAndGlyphs" font-size="23.4">p90</text>
<rect x="411.0" y="1320.0" width="28" height="8" rx="2" fill="#f08533"/>
<text class="t" x="454.8" y="1332.6" textLength="41.5" lengthAdjust="spacingAndGlyphs" font-size="23.4">p75</text>
<rect x="517.0" y="1320.0" width="28" height="8" rx="2" fill="#e05867"/>
<text class="t" x="560.8" y="1332.6" textLength="47.5" lengthAdjust="spacingAndGlyphs" font-size="23.4">med</text>
<rect x="629.0" y="1320.0" width="28" height="8" rx="2" fill="#6697ec"/>
<text class="t" x="672.8" y="1332.6" textLength="58.5" lengthAdjust="spacingAndGlyphs" font-size="23.4">p0.01</text>
<rect x="1201" y="693" width="1174" height="666" rx="4" ry="4" fill="#1b1c20" stroke="#26272c" stroke-width="2"/>
<text class="h" x="1788.0" y="735.2" text-anchor="middle" textLength="314.0" lengthAdjust="spacingAndGlyphs" font-size="28">Messages from Realtime</text>
<rect x="1324.4" y="1255.8" width="984.1" height="1" fill="#2f3035"/>
<text class="t" x="1313.8" y="1261.9" text-anchor="end" textLength="13.6" lengthAdjust="spacingAndGlyphs">0</text>
<rect x="1324.4" y="1181.2" width="984.1" height="1" fill="#2f3035"/>
<text class="t" x="1313.8" y="1187.3" text-anchor="end" textLength="83.5" lengthAdjust="spacingAndGlyphs">200000</text>
<rect x="1324.4" y="1106.5" width="984.1" height="1" fill="#2f3035"/>
<text class="t" x="1313.8" y="1112.6" text-anchor="end" textLength="83.5" lengthAdjust="spacingAndGlyphs">400000</text>
<rect x="1324.4" y="1031.9" width="984.1" height="1" fill="#2f3035"/>
<text class="t" x="1313.8" y="1038.0" text-anchor="end" textLength="83.5" lengthAdjust="spacingAndGlyphs">600000</text>
<rect x="1324.4" y="957.3" width="984.1" height="1" fill="#2f3035"/>
<text class="t" x="1313.8" y="963.4" text-anchor="end" textLength="83.5" lengthAdjust="spacingAndGlyphs">800000</text>
<rect x="1324.4" y="882.6" width="984.1" height="1" fill="#2f3035"/>
<text class="t" x="1313.8" y="888.8" text-anchor="end" textLength="96.5" lengthAdjust="spacingAndGlyphs">1000000</text>
<rect x="1324.4" y="808.0" width="984.1" height="1" fill="#2f3035"/>
<text class="t" x="1313.8" y="814.1" text-anchor="end" textLength="96.5" lengthAdjust="spacingAndGlyphs">1200000</text>
<rect x="1406.9" y="808.3" width="1" height="456.0" fill="#2f3035"/>
<text class="t" x="1406.9" y="1292.3" text-anchor="middle" textLength="60.6" lengthAdjust="spacingAndGlyphs">07:15</text>
<rect x="1503.5" y="808.3" width="1" height="456.0" fill="#2f3035"/>
<text class="t" x="1503.5" y="1292.3" text-anchor="middle" textLength="60.6" lengthAdjust="spacingAndGlyphs">07:30</text>
<rect x="1600.1" y="808.3" width="1" height="456.0" fill="#2f3035"/>
<text class="t" x="1600.1" y="1292.3" text-anchor="middle" textLength="60.6" lengthAdjust="spacingAndGlyphs">07:45</text>
<rect x="1696.7" y="808.3" width="1" height="456.0" fill="#2f3035"/>
<text class="t" x="1696.7" y="1292.3" text-anchor="middle" textLength="60.6" lengthAdjust="spacingAndGlyphs">08:00</text>
<rect x="1793.3" y="808.3" width="1" height="456.0" fill="#2f3035"/>
<text class="t" x="1793.3" y="1292.3" text-anchor="middle" textLength="60.6" lengthAdjust="spacingAndGlyphs">08:15</text>
<rect x="1889.9" y="808.3" width="1" height="456.0" fill="#2f3035"/>
<text class="t" x="1889.9" y="1292.3" text-anchor="middle" textLength="60.6" lengthAdjust="spacingAndGlyphs">08:30</text>
<rect x="1986.5" y="808.3" width="1" height="456.0" fill="#2f3035"/>
<text class="t" x="1986.5" y="1292.3" text-anchor="middle" textLength="60.6" lengthAdjust="spacingAndGlyphs">08:45</text>
<rect x="2083.1" y="808.3" width="1" height="456.0" fill="#2f3035"/>
<text class="t" x="2083.1" y="1292.3" text-anchor="middle" textLength="60.6" lengthAdjust="spacingAndGlyphs">09:00</text>
<rect x="2179.7" y="808.3" width="1" height="456.0" fill="#2f3035"/>
<text class="t" x="2179.7" y="1292.3" text-anchor="middle" textLength="60.6" lengthAdjust="spacingAndGlyphs">09:15</text>
<rect x="2276.3" y="808.3" width="1" height="456.0" fill="#2f3035"/>
<text class="t" x="2276.3" y="1292.3" text-anchor="middle" textLength="60.6" lengthAdjust="spacingAndGlyphs">09:30</text>
<path d="M1346.1 1255.3 L1347.7 1255.3 L1349.3 1255.3 L1350.9 1255.3 L1352.5 1255.3 L1354.2 1255.3 L1355.8 1255.3 L1357.4 1255.3 L1359.0 1255.3 L1360.6 1255.3 L1362.2 1255.3 L1363.8 1255.3 L1365.4 1255.3 L1367.0 1255.3 L1368.6 1255.3 L1370.3 1255.3 L1371.9 1255.3 L1373.5 1255.2 L1375.1 1255.2 L1376.7 1254.8 L1378.3 1254.6 L1379.9 1254.1 L1381.5 1255.0 L1383.1 1254.3 L1384.8 1253.4 L1386.4 1253.9 L1388.0 1254.1 L1389.6 1255.2 L1391.2 1253.0 L1392.8 1254.1 L1394.4 1254.8 L1396.0 1253.7 L1397.6 1254.5 L1399.2 1254.1 L1400.9 1254.4 L1402.5 1253.1 L1404.1 1254.0 L1405.7 1254.5 L1407.3 1252.9 L1408.9 1252.0 L1410.5 1253.4 L1412.1 1253.1 L1413.7 1254.2 L1415.4 1250.7 L1417.0 1251.5 L1418.6 1253.5 L1420.2 1249.5 L1421.8 1252.2 L1423.4 1252.7 L1425.0 1250.6 L1426.6 1254.0 L1428.2 1252.9 L1429.8 1252.5 L1431.5 1252.0 L1433.1 1252.9 L1434.7 1248.6 L1436.3 1252.0 L1437.9 1251.9 L1439.5 1247.2 L1441.1 1251.2 L1442.7 1249.9 L1444.3 1251.9 L1446.0 1249.3 L1447.6 1250.1 L1449.2 1250.7 L1450.8 1248.0 L1452.4 1251.1 L1454.0 1249.4 L1455.6 1250.6 L1457.2 1248.2 L1458.8 1251.8 L1460.5 1250.6 L1462.1 1248.7 L1463.7 1250.5 L1465.3 1245.8 L1466.9 1253.1 L1468.5 1244.8 L1470.1 1250.7 L1471.7 1249.6 L1473.3 1248.1 L1474.9 1245.6 L1476.6 1251.3 L1478.2 1244.7 L1479.8 1249.3 L1481.4 1251.2 L1483.0 1243.3 L1484.6 1246.6 L1486.2 1243.7 L1487.8 1247.8 L1489.4 1251.3 L1491.1 1252.3 L1492.7 1241.7 L1494.3 1245.0 L1495.9 1248.6 L1497.5 1251.0 L1499.1 1247.5 L1500.7 1243.6 L1502.3 1245.8 L1503.9 1243.9 L1505.5 1242.3 L1507.2 1239.5 L1508.8 1242.6 L1510.4 1242.0 L1512.0 1240.2 L1513.6 1241.3 L1515.2 1234.1 L1516.8 1237.4 L1518.4 1245.7 L1520.0 1238.3 L1521.7 1246.9 L1523.3 1246.2 L1524.9 1241.5 L1526.5 1227.6 L1528.1 1238.4 L1529.7 1235.1 L1531.3 1246.1 L1532.9 1245.2 L1534.5 1248.5 L1536.1 1231.8 L1537.8 1240.6 L1539.4 1240.0 L1541.0 1230.9 L1542.6 1234.1 L1544.2 1233.3 L1545.8 1236.6 L1547.4 1242.3 L1549.0 1234.7 L1550.6 1240.8 L1552.3 1231.5 L1553.9 1236.3 L1555.5 1220.7 L1557.1 1223.5 L1558.7 1238.9 L1560.3 1228.8 L1561.9 1236.9 L1563.5 1228.6 L1565.1 1241.8 L1566.7 1226.0 L1568.4 1239.2 L1570.0 1230.6 L1571.6 1236.4 L1573.2 1225.4 L1574.8 1226.9 L1576.4 1221.7 L1578.0 1234.3 L1579.6 1229.1 L1581.2 1231.5 L1582.9 1226.6 L1584.5 1214.0 L1586.1 1229.4 L1587.7 1230.3 L1589.3 1237.0 L1590.9 1232.7 L1592.5 1222.4 L1594.1 1221.5 L1595.7 1243.0 L1597.3 1233.3 L1599.0 1211.2 L1600.6 1242.4 L1602.2 1218.7 L1603.8 1228.5 L1605.4 1228.5 L1607.0 1228.9 L1608.6 1228.2 L1610.2 1224.6 L1611.8 1220.7 L1613.5 1208.2 L1615.1 1219.6 L1616.7 1213.7 L1618.3 1221.1 L1619.9 1215.0 L1621.5 1224.5 L1623.1 1225.8 L1624.7 1214.7 L1626.3 1220.0 L1627.9 1217.3 L1629.6 1211.6 L1631.2 1213.7 L1632.8 1209.9 L1634.4 1217.9 L1636.0 1213.4 L1637.6 1218.7 L1639.2 1199.2 L1640.8 1220.6 L1642.4 1203.6 L1644.1 1203.3 L1645.7 1208.1 L1647.3 1215.2 L1648.9 1211.9 L1650.5 1202.4 L1652.1 1196.7 L1653.7 1216.0 L1655.3 1220.3 L1656.9 1206.5 L1658.6 1193.2 L1660.2 1205.0 L1661.8 1187.9 L1663.4 1222.9 L1665.0 1186.9 L1666.6 1207.8 L1668.2 1196.2 L1669.8 1217.2 L1671.4 1204.2 L1673.0 1211.3 L1674.7 1205.0 L1676.3 1202.2 L1677.9 1188.2 L1679.5 1199.9 L1681.1 1193.8 L1682.7 1195.6 L1684.3 1203.6 L1685.9 1185.3 L1687.5 1204.3 L1689.2 1189.0 L1690.8 1181.7 L1692.4 1197.8 L1694.0 1212.6 L1695.6 1203.6 L1697.2 1188.3 L1698.8 1201.9 L1700.4 1187.9 L1702.0 1191.3 L1703.6 1193.2 L1705.3 1169.3 L1706.9 1193.4 L1708.5 1209.1 L1710.1 1181.8 L1711.7 1171.9 L1713.3 1170.8 L1714.9 1199.8 L1716.5 1178.0 L1718.1 1207.6 L1719.8 1186.6 L1721.4 1199.6 L1723.0 1182.6 L1724.6 1208.5 L1726.2 1186.5 L1727.8 1189.6 L1729.4 1178.3 L1731.0 1186.8 L1732.6 1189.6 L1734.2 1171.2 L1735.9 1199.8 L1737.5 1178.0 L1739.1 1182.9 L1740.7 1175.2 L1742.3 1191.6 L1743.9 1200.5 L1745.5 1160.6 L1747.1 1186.3 L1748.7 1188.9 L1750.4 1185.4 L1752.0 1210.5 L1753.6 1170.1 L1755.2 1184.1 L1756.8 1198.7 L1758.4 1183.9 L1760.0 1164.7 L1761.6 1155.1 L1763.2 1188.2 L1764.8 1175.9 L1766.5 1163.0 L1768.1 1190.3 L1769.7 1152.7 L1771.3 1175.4 L1772.9 1167.9 L1774.5 1183.5 L1776.1 1183.3 L1777.7 1171.0 L1779.3 1149.9 L1781.0 1173.3 L1782.6 1158.6 L1784.2 1205.8 L1785.8 1153.9 L1787.4 1166.3 L1789.0 1170.8 L1790.6 1163.8 L1792.2 1161.5 L1793.8 1166.8 L1795.4 1156.7 L1797.1 1175.5 L1798.7 1156.3 L1800.3 1161.9 L1801.9 1149.5 L1803.5 1171.4 L1805.1 1145.6 L1806.7 1176.9 L1808.3 1159.1 L1809.9 1149.6 L1811.6 1157.9 L1813.2 1145.3 L1814.8 1155.6 L1816.4 1141.1 L1818.0 1154.2 L1819.6 1129.6 L1821.2 1178.6 L1822.8 1140.4 L1824.4 1123.8 L1826.0 1143.2 L1827.7 1140.3 L1829.3 1147.4 L1830.9 1127.2 L1832.5 1149.7 L1834.1 1171.8 L1835.7 1122.8 L1837.3 1146.7 L1838.9 1136.0 L1840.5 1143.0 L1842.2 1111.3 L1843.8 1120.7 L1845.4 1103.8 L1847.0 1136.5 L1848.6 1161.9 L1850.2 1124.5 L1851.8 1137.5 L1853.4 1104.1 L1855.0 1121.2 L1856.7 1118.2 L1858.3 1131.2 L1859.9 1131.7 L1861.5 1143.8 L1863.1 1131.6 L1864.7 1097.7 L1866.3 1131.3 L1867.9 1158.0 L1869.5 1166.2 L1871.1 1094.5 L1872.8 1127.1 L1874.4 1109.6 L1876.0 1133.5 L1877.6 1119.6 L1879.2 1153.2 L1880.8 1105.3 L1882.4 1134.9 L1884.0 1122.4 L1885.6 1117.8 L1887.3 1123.4 L1888.9 1138.8 L1890.5 1125.1 L1892.1 1109.2 L1893.7 1136.4 L1895.3 1116.9 L1896.9 1111.4 L1898.5 1098.0 L1900.1 1070.0 L1901.7 1099.0 L1903.4 1075.4 L1905.0 1127.0 L1906.6 1118.1 L1908.2 1103.1 L1909.8 1125.5 L1911.4 1113.5 L1913.0 1111.4 L1914.6 1067.9 L1916.2 1098.4 L1917.9 1112.1 L1919.5 1131.9 L1921.1 1135.7 L1922.7 1071.7 L1924.3 1148.2 L1925.9 1135.0 L1927.5 1034.6 L1929.1 1096.5 L1930.7 1114.3 L1932.3 1091.7 L1934.0 1050.6 L1935.6 1062.0 L1937.2 1100.8 L1938.8 1081.6 L1940.4 1097.1 L1942.0 1079.4 L1943.6 1085.6 L1945.2 1109.4 L1946.8 1086.0 L1948.5 1101.6 L1950.1 1095.3 L1951.7 1071.9 L1953.3 1070.0 L1954.9 1119.9 L1956.5 1078.7 L1958.1 1101.9 L1959.7 1070.4 L1961.3 1090.8 L1962.9 1060.6 L1964.6 1079.1 L1966.2 1081.3 L1967.8 1088.6 L1969.4 1044.7 L1971.0 1086.4 L1972.6 1069.6 L1974.2 1108.1 L1975.8 1025.6 L1977.4 1079.3 L1979.1 1055.4 L1980.7 1077.4 L1982.3 1054.5 L1983.9 1074.0 L1985.5 1102.0 L1987.1 1072.0 L1988.7 1073.0 L1990.3 1108.0 L1991.9 1042.1 L1993.5 1073.0 L1995.2 1017.4 L1996.8 1078.0 L1998.4 1055.8 L2000.0 1050.0 L2001.6 1073.9 L2003.2 1102.4 L2004.8 1039.3 L2006.4 1089.5 L2008.0 1076.6 L2009.7 1083.1 L2011.3 1064.9 L2012.9 1045.1 L2014.5 1058.1 L2016.1 1076.1 L2017.7 1064.4 L2019.3 1005.5 L2020.9 1013.9 L2022.5 1041.0 L2024.2 1002.5 L2025.8 1044.6 L2027.4 1005.9 L2029.0 1073.0 L2030.6 1033.8 L2032.2 973.6 L2033.8 988.4 L2035.4 1055.1 L2037.0 1086.9 L2038.6 989.8 L2040.3 1083.0 L2041.9 1010.2 L2043.5 1043.2 L2045.1 1022.7 L2046.7 984.8 L2048.3 1063.9 L2049.9 1010.3 L2051.5 1046.0 L2053.1 1014.5 L2054.8 976.5 L2056.4 1010.3 L2058.0 1047.8 L2059.6 966.8 L2061.2 1055.3 L2062.8 1021.0 L2064.4 1047.5 L2066.0 1055.9 L2067.6 999.2 L2069.2 1062.3 L2070.9 1025.2 L2072.5 998.8 L2074.1 940.9 L2075.7 974.0 L2077.3 1060.5 L2078.9 1014.3 L2080.5 998.7 L2082.1 1022.0 L2083.7 941.8 L2085.4 1002.2 L2087.0 965.9 L2088.6 943.1 L2090.2 1022.0 L2091.8 1001.9 L2093.4 989.7 L2095.0 1058.6 L2096.6 970.0 L2098.2 1047.9 L2099.8 967.0 L2101.5 1014.0 L2103.1 1037.9 L2104.7 935.0 L2106.3 1019.8 L2107.9 1033.5 L2109.5 993.1 L2111.1 981.7 L2112.7 1010.7 L2114.3 926.9 L2116.0 983.9 L2117.6 1017.4 L2119.2 933.5 L2120.8 1013.2 L2122.4 960.8 L2124.0 1044.6 L2125.6 923.2 L2127.2 1008.6 L2128.8 959.7 L2130.4 926.6 L2132.1 1008.7 L2133.7 940.2 L2135.3 980.4 L2136.9 943.2 L2138.5 952.3 L2140.1 1009.3 L2141.7 970.6 L2143.3 923.2 L2144.9 1008.7 L2146.6 1004.2 L2148.2 929.1 L2149.8 971.4 L2151.4 968.8 L2153.0 919.5 L2154.6 920.8 L2156.2 898.8 L2157.8 976.0 L2159.4 974.5 L2161.0 934.3 L2162.7 1036.8 L2164.3 995.8 L2165.9 958.9 L2167.5 1007.2 L2169.1 955.8 L2170.7 972.3 L2172.3 917.6 L2173.9 967.9 L2175.5 1000.9 L2177.2 920.5 L2178.8 1025.7 L2180.4 939.0 L2182.0 963.3 L2183.6 915.6 L2185.2 884.9 L2186.8 1019.8 L2188.4 1011.8 L2190.0 937.0 L2191.6 908.5 L2193.3 939.0 L2194.9 951.5 L2196.5 1031.2 L2198.1 1013.8 L2199.7 977.0 L2201.3 891.9 L2202.9 988.9 L2204.5 932.3 L2206.1 934.0 L2207.8 935.1 L2209.4 989.3 L2211.0 956.3 L2212.6 992.4 L2214.2 1012.1 L2215.8 916.4 L2217.4 1040.1 L2219.0 975.5 L2220.6 924.5 L2222.3 917.6 L2223.9 1039.6 L2225.5 1013.0 L2227.1 1012.0 L2228.7 971.4 L2230.3 961.4 L2231.9 1012.1 L2233.5 955.1 L2235.1 983.0 L2236.7 1021.8 L2238.4 955.3 L2240.0 945.7 L2241.6 970.1 L2243.2 928.7 L2244.8 950.8 L2246.4 1023.5 L2248.0 947.9 L2249.6 906.9 L2251.2 936.0 L2252.9 928.7 L2254.5 939.2 L2256.1 917.0 L2257.7 922.3 L2259.3 933.7 L2260.9 976.7 L2262.5 929.5 L2264.1 978.9 L2265.7 983.5 L2267.3 1013.0 L2269.0 1000.1 L2270.6 981.1 L2272.2 925.7 L2273.8 959.6 L2275.4 1008.3 L2277.0 939.6 L2278.6 924.4 L2280.2 1021.7 L2281.8 992.4 L2283.5 920.4 L2285.1 1000.5 L2286.7 1030.7 L2288.3 1041.5 L2289.9 1008.4 L2291.5 881.6 L2293.1 979.6 L2294.7 904.5 L2296.3 988.7 L2297.9 899.5 L2299.6 888.3 L2301.2 985.3 L2302.8 948.7 L2304.4 986.1 L2306.0 973.6" fill="none" stroke="#80c06f" stroke-width="1.75" stroke-linejoin="round" stroke-linecap="round"/>
<rect x="1250.0" y="1320.0" width="28" height="8" rx="2" fill="#80c06f"/>
<text class="t" x="1293.5" y="1332.6" textLength="60.5" lengthAdjust="spacingAndGlyphs" font-size="23.4">msgs</text>
</svg>
</body></html>
